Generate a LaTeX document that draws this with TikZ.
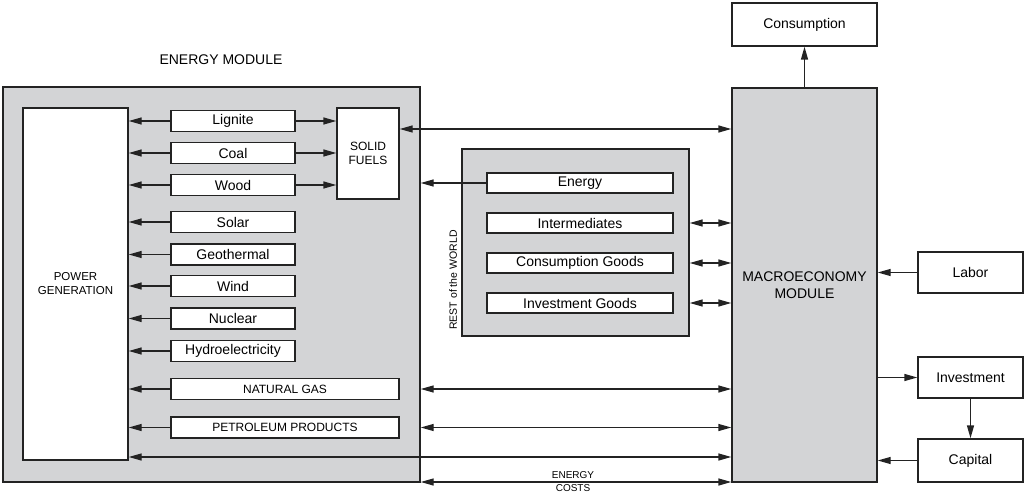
\documentclass[tikz,border=0pt]{standalone}
\usepackage{fontspec}
\setmainfont{Liberation Sans}
\usetikzlibrary{arrows.meta,calc}
\definecolor{modgray}{RGB}{211,212,214}
\definecolor{ink}{RGB}{35,35,35}
\tikzset{
  box/.style={draw=ink,line width=1.4pt,fill=white,inner sep=0pt,font=\fontsize{14}{16}\selectfont,align=center},
  module/.style={draw=ink,line width=1.4pt,fill=modgray,inner sep=0pt,align=center},
  conn/.style={draw=ink,line width=1.4pt,-{Triangle[length=13pt,width=7pt]}},
  dconn/.style={draw=ink,line width=1.4pt,{Triangle[length=13pt,width=7pt]}-{Triangle[length=13pt,width=7pt]}},
  src/.style={box,minimum width=124pt,minimum height=21pt},
  wide/.style={box,minimum width=228pt,minimum height=21pt,font=\fontsize{12}{14}\selectfont},
  rowbox/.style={box,minimum width=186pt,minimum height=20pt},
  side/.style={box,minimum width=105pt,minimum height=41pt}
}
\begin{document}
\begin{tikzpicture}[x=1pt,y=-1pt]
\useasboundingbox (0,0) rectangle (1024,494);
% modules
\node[module,minimum width=417pt,minimum height=395pt] (em) at (211.5,284.5) {};
\node[font=\fontsize{14}{16}\selectfont] (emlabel) at (221,60) {ENERGY MODULE};
\node[box,minimum width=105pt,minimum height=352pt,font=\fontsize{11.5}{14}\selectfont] (pg) at (75.5,284) {POWER\\GENERATION};
\node[src] (lig) at (233,121) {Lignite};
\node[src] (coal) at (233,153) {Coal};
\node[src] (wood) at (233,185) {Wood};
\node[src] (solar) at (233,222) {Solar};
\node[src] (geo) at (233,254.5) {Geothermal};
\node[src] (wind) at (233,286) {Wind};
\node[src] (nuc) at (233,318.5) {Nuclear};
\node[src] (hydro) at (233,351) {Hydroelectricity};
\node[wide] (ng) at (285,389) {NATURAL GAS};
\node[wide] (pet) at (285,427.5) {PETROLEUM PRODUCTS};
\node[box,minimum width=62pt,minimum height=91pt,font=\fontsize{12}{14}\selectfont] (sf) at (368,153.5) {SOLID\\FUELS};
% rest of world
\node[module,minimum width=227pt,minimum height=187pt] (row) at (575.5,242.5) {};
\node[rotate=90,font=\fontsize{10.5}{12}\selectfont] (rowlabel) at (453,280) {REST of the WORLD};
\node[rowbox] (ren) at (580,183) {Energy};
\node[rowbox] (rint) at (580,223) {Intermediates};
\node[rowbox] (rcg) at (580,263) {Consumption Goods};
\node[rowbox] (rig) at (580,303) {Investment Goods};
% macro
\node[module,minimum width=145pt,minimum height=394pt,font=\fontsize{14}{17}\selectfont] (macro) at (804.5,285) {MACROECONOMY\\MODULE};
\node[box,minimum width=145pt,minimum height=43pt] (cons) at (804.5,24.5) {Consumption};
\node[side] (labor) at (970.5,272.5) {Labor};
\node[side] (inv) at (970.5,377.5) {Investment};
\node[side,minimum height=43pt] (cap) at (970.5,460.5) {Capital};
% helper coordinates
\coordinate (y129) at (0,129);
\coordinate (y457) at (0,457);
\coordinate (y482) at (0,482);
% connectors to power generation
\foreach \n in {lig,coal,wood,solar,geo,wind,nuc,hydro,ng,pet}
  \draw[conn] (\n.west) -- (\n.west -| pg.east);
\foreach \n in {lig,coal,wood}
  \draw[conn] (\n.east) -- (\n.east -| sf.west);
\draw[dconn] (sf.east |- y129) -- (macro.west |- y129);
\draw[conn] (ren.west) -- (ren.west -| em.east);
\foreach \n in {rint,rcg,rig}
  \draw[dconn] (row.east |- \n.east) -- (macro.west |- \n.east);
\draw[dconn] (em.east |- ng.east) -- (macro.west |- ng.east);
\draw[dconn] (em.east |- pet.east) -- (macro.west |- pet.east);
\draw[dconn] (pg.east |- y457) -- (macro.west |- y457);
\draw[dconn] (em.east |- y482) -- (macro.west |- y482);
\node[font=\fontsize{10}{13}\selectfont,align=center] (ecost) at (573,481.5) {ENERGY\\COSTS};
% macro side
\draw[conn] (macro.north) -- (cons.south);
\draw[conn] (labor.west) -- (labor.west -| macro.east);
\draw[conn] (macro.east |- inv.west) -- (inv.west);
\draw[conn] (inv.south) -- (cap.north);
\draw[conn] (cap.west) -- (cap.west -| macro.east);
\end{tikzpicture}
\end{document}
